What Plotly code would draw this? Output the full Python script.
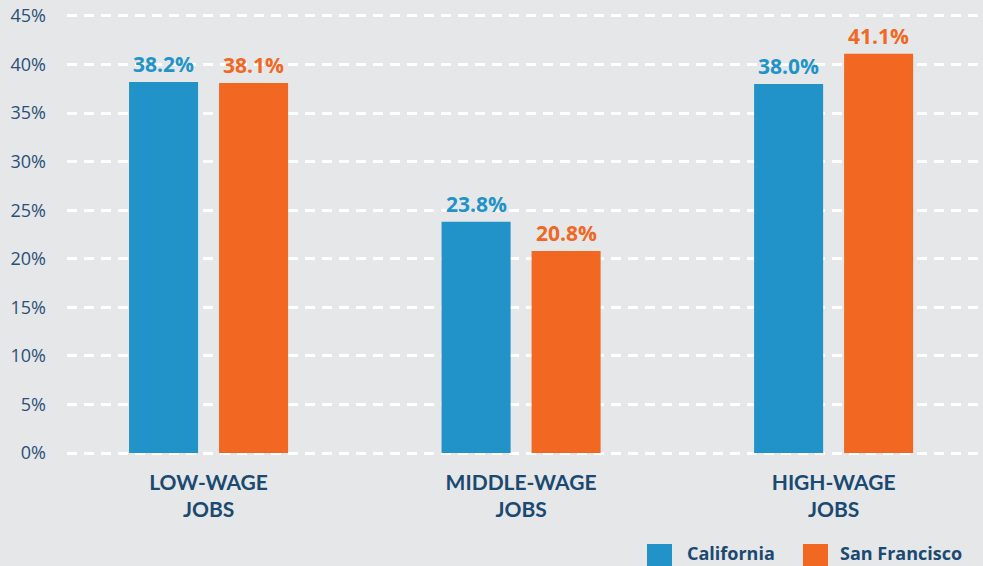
import plotly.graph_objects as go

categories = ["LOW-WAGE<br>JOBS", "MIDDLE-WAGE<br>JOBS", "HIGH-WAGE<br>JOBS"]
series_names = ["California", "San Francisco"]
california = [38.2, 23.8, 38.0]
san_francisco = [38.1, 20.8, 41.1]
y_ticks = [0, 5, 10, 15, 20, 25, 30, 35, 40, 45]

BLUE = "#2193c8"
ORANGE = "#f26722"
AXIS_TEXT = "#2a5078"
CAT_TEXT = "#1a4971"
BG = "#e6e7e9"

fig = go.Figure()
series = [california, san_francisco]
colors = [BLUE, ORANGE]
for name, vals, col in zip(series_names, series, colors):
    fig.add_trace(go.Bar(x=categories, y=vals, name=name, marker_color=col,
                         marker_line_width=0, showlegend=False))

# value labels
shifts = [-45, 45]
for vals, col, sh in zip(series, colors, shifts):
    for c, v in zip(categories, vals):
        fig.add_annotation(x=c, y=v, text=f"<b>{v:.1f}%</b>", showarrow=False,
                           xref="x", yref="y", xshift=sh, yshift=18, yanchor="middle",
                           font=dict(family="Open Sans", size=21, color=col))

# custom legend (paper coords)
L, R, T, B = 67, 983, 14, 455
def px(x): return (x - L) / (R - L)
def py(y): return (B - y) / (B - T)
leg = [(647, 685), (803, 838)]
for (sx, tx), name, col in zip(leg, series_names, colors):
    fig.add_shape(type="rect", xref="paper", yref="paper",
                  x0=px(sx), x1=px(sx + 25), y0=py(569), y1=py(544),
                  fillcolor=col, line_width=0)
    fig.add_annotation(xref="paper", yref="paper", x=px(tx), y=py(553), text=f"<b>{name}</b>",
                       showarrow=False, xanchor="left", yanchor="middle",
                       font=dict(family="Open Sans", size=18, color=CAT_TEXT))

fig.update_layout(
    width=983, height=566,
    margin=dict(l=L, r=983 - R, t=T, b=566 - B, autoexpand=False),
    paper_bgcolor=BG, plot_bgcolor=BG,
    barmode="group", bargap=0.424, bargroupgap=0.233,
)
fig.update_xaxes(type="category", range=[-0.453, 2.478], showgrid=False, showline=False,
                 zeroline=False, ticks="", ticklabelstandoff=13,
                 tickfont=dict(family="Lato", size=21, color=CAT_TEXT, weight="bold"))
fig.update_yaxes(range=[-0.2, 45.2], tickvals=y_ticks, ticktext=[f"{t}%" for t in y_ticks],
                 showgrid=True, gridcolor="white", gridwidth=2.5, griddash="10px,7px",
                 zeroline=False, showline=False, ticks="", ticklabelstandoff=20,
                 tickfont=dict(family="Open Sans", size=18, color=AXIS_TEXT))

fig.write_html("out.html")
